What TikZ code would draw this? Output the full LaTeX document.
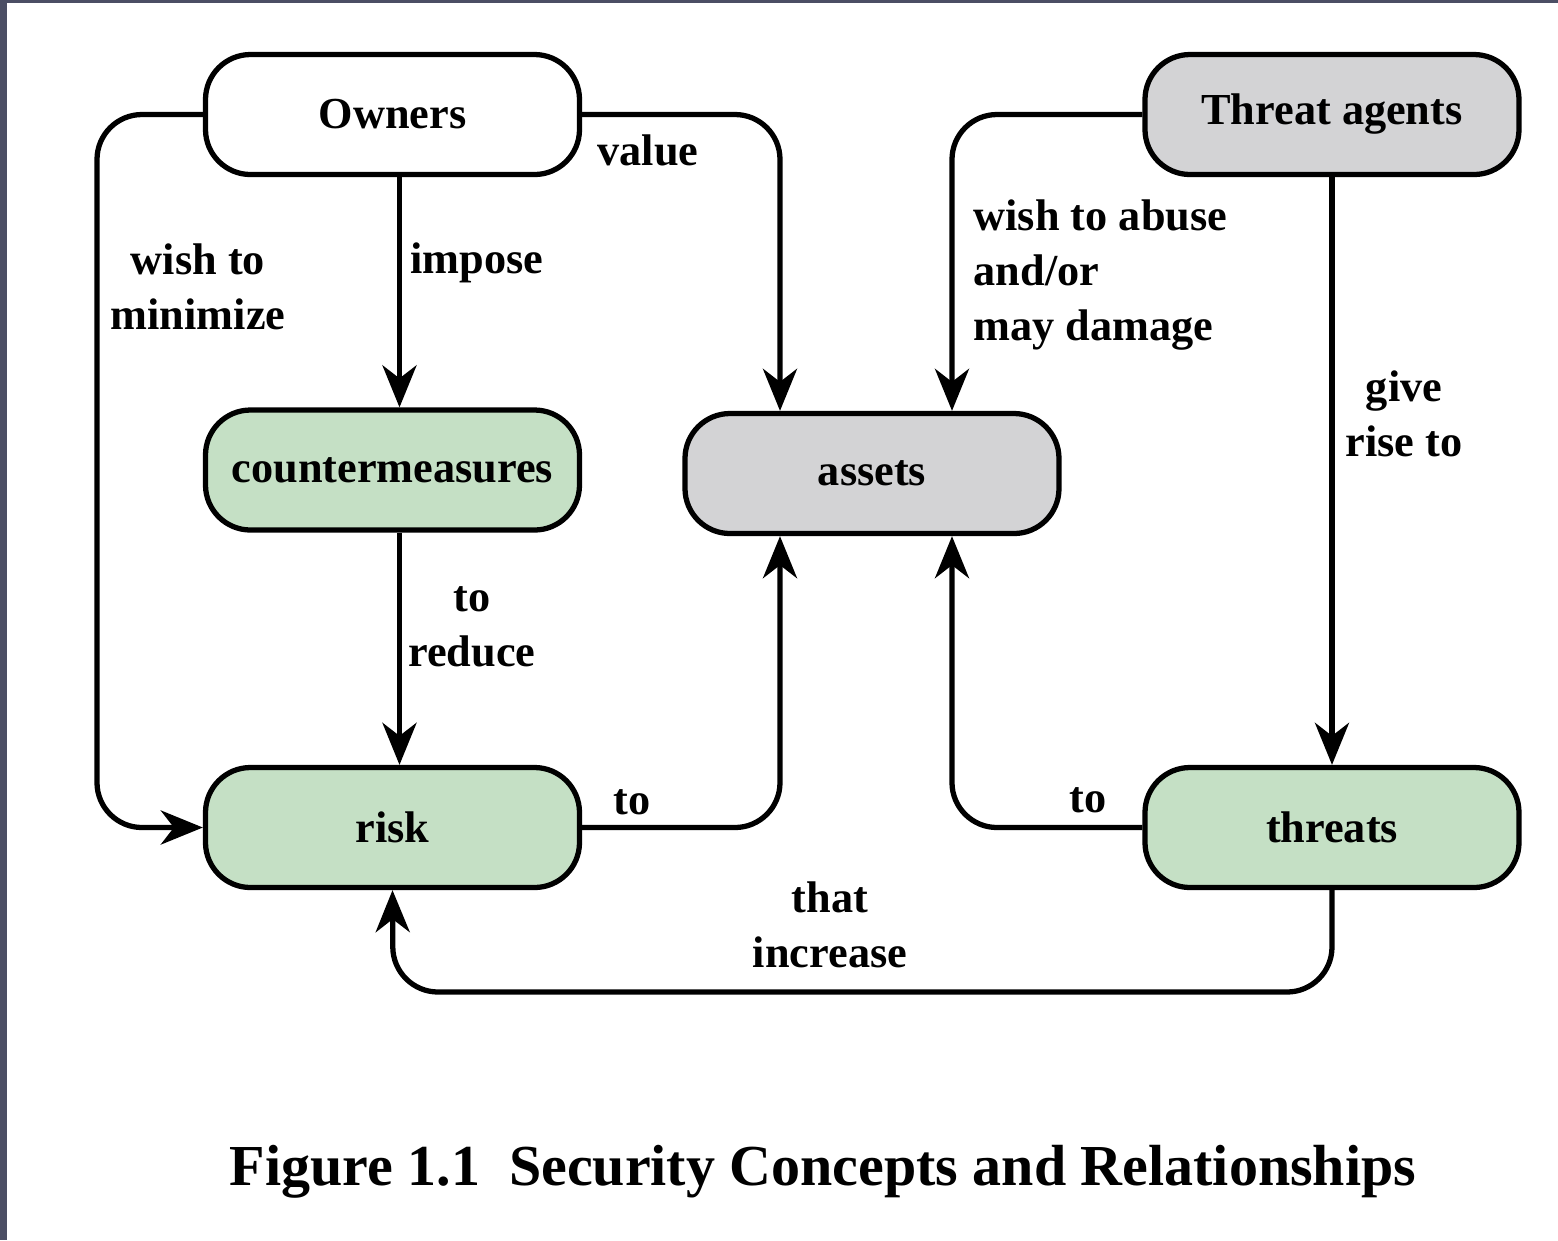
\documentclass[tikz,border=0pt]{standalone}
\usepackage{fontspec}
\setmainfont{Liberation Serif}
\usetikzlibrary{arrows.meta}
\definecolor{boxgreen}{RGB}{197,224,197}
\definecolor{boxgrey}{RGB}{211,211,213}
\definecolor{framegrey}{RGB}{75,78,100}
\tikzset{
    base/.style={draw, line width=1.5pt, rectangle, rounded corners=0.45cm, minimum width=3.74cm, minimum height=1.2cm, align=center, font=\fontsize{12.6}{15.6}\selectfont\bfseries},
    link/.style={line width=1.5pt, rounded corners=0.45cm, -{Stealth[length=4.2mm, width=3.4mm, inset=1.3mm]}},
    lbl/.style={align=center, inner sep=0pt, font=\fontsize{12.6}{15.6}\selectfont\bfseries}
}

\begin{document}
\begin{tikzpicture}
\useasboundingbox (0,0) rectangle (15.58,-12.40);
\fill[framegrey] (0,0) rectangle (15.58,-12.40);
\fill[white] (0.07,-0.03) rectangle (15.58,-12.40);

% boxes
\node[base, fill=white] (owners) at (3.925,-1.145) {Owners};
\node[base, fill=boxgrey] (agents) at (13.32,-1.145) {Threat agents};
\node[base, fill=boxgreen] (counter) at (3.925,-4.70) {countermeasures};
\node[base, fill=boxgrey] (assets) at (8.72,-4.735) {assets};
\node[base, fill=boxgreen] (risk) at (3.925,-8.275) {risk};
\node[base, fill=boxgreen] (threats) at (13.32,-8.275) {threats};

% bend points
\coordinate (lft) at (0.97,0);
\coordinate (al) at (7.80,0);
\coordinate (ar) at (9.52,0);
\coordinate (bot) at (3.93,-9.92);

% connectors
\draw[link] ([xshift=0.07cm]owners.south) -- ([xshift=0.07cm]counter.north);
\draw[link] ([xshift=0.07cm]counter.south) -- ([xshift=0.07cm]risk.north);
\draw[link] (owners.west) -| (lft |- risk.west) -- (risk.west);
\draw[link] (owners.east) -| (al |- assets.north);
\draw[link] (agents.west) -| (ar |- assets.north);
\draw[link] (agents.south) -- (threats.north);
\draw[link] (risk.east) -| (al |- assets.south);
\draw[link] (threats.west) -| (ar |- assets.south);
\draw[link] (threats.south) |- (bot) -- (risk.south);

% labels
\node[lbl] (limpose) at (4.77,-2.63) {impose};
\node[lbl] (lvalue) at (6.48,-1.50) {value};
\node[lbl] (lminimize) at (1.98,-2.87) {wish to\\minimize};
\node[lbl] (lreduce) at (4.72,-6.27) {to\\reduce};
\node[lbl, anchor=west, align=left] (labuse) at (9.73,-2.75) {wish to abuse\\and/or\\may damage};
\node[lbl] (lrise) at (14.04,-4.14) {give\\rise to};
\node[lbl] (lriskto) at (6.32,-8.02) {to};
\node[lbl] (lthreatto) at (10.88,-8.00) {to};
\node[lbl] (lincrease) at (8.30,-9.25) {that\\increase};

% caption
\node[font=\fontsize{16.5}{20}\selectfont\bfseries] (caption) at (8.23,-11.72) {Figure 1.1\ \ Security Concepts and Relationships};
\end{tikzpicture}
\end{document}
